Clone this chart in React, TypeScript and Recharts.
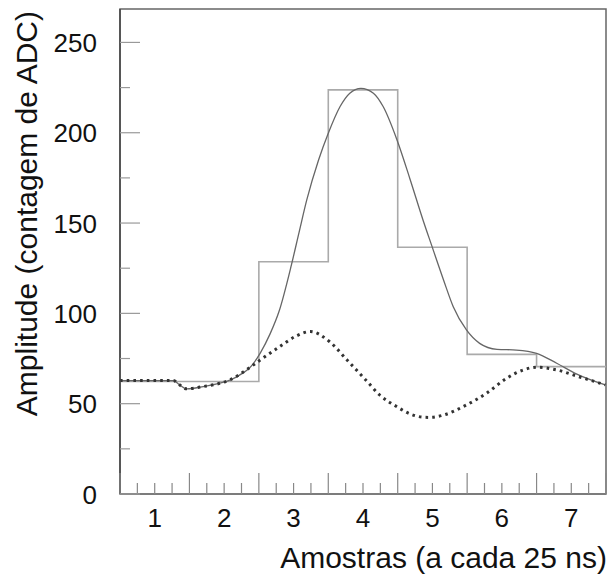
import {
  ComposedChart, Line, XAxis, YAxis, ReferenceArea, Label,
} from 'recharts';

// Histogram of the ADC samples (one bin per sample, 25 ns each)
const binCenters = [1, 2, 3, 4, 5, 6, 7];
const binCounts = [62.3, 62.3, 128.6, 223.7, 136.6, 77.3, 70.5];

// Fitted pulse (solid line)
const fitX = [0.5, 1.0, 1.27, 1.35, 1.46, 1.7, 1.94, 2.1, 2.25, 2.35, 2.42, 2.52, 2.66, 2.79, 2.97, 3.08, 3.19, 3.36, 3.5, 3.67, 3.81, 3.97, 4.15, 4.29, 4.49, 4.68, 4.87, 4.99, 5.16, 5.3, 5.49, 5.68, 5.93, 6.21, 6.5, 6.79, 7.08, 7.49];
const fitY = [62.8, 62.8, 62.8, 60.6, 58.2, 59.5, 61.4, 63.3, 66.5, 69.2, 72.2, 78, 88.5, 101, 127, 145, 162.8, 184.9, 199.7, 214.5, 221.9, 224.6, 221.9, 214.5, 196, 174, 151, 137.5, 118.5, 103.7, 90.8, 83.4, 80.1, 79.7, 77.9, 72.4, 66.4, 60.4];

// Second component (dotted line)
const compX = [0.5, 1.0, 1.27, 1.35, 1.46, 1.7, 1.94, 2.08, 2.32, 2.52, 2.8, 3.04, 3.24, 3.52, 3.77, 4.05, 4.24, 4.49, 4.68, 4.87, 4.97, 5.16, 5.49, 5.78, 6.07, 6.31, 6.5, 6.79, 7.08, 7.49];
const compY = [62.8, 62.8, 62.8, 60.6, 58.2, 59.5, 61.3, 63.1, 68.7, 74.2, 81.6, 87.5, 89.9, 84.3, 74.2, 62.7, 54.8, 48.3, 44.3, 42.5, 42.4, 43.7, 49.3, 55.8, 64.1, 68.7, 70.2, 68.7, 65.3, 60.4];

const xTickLabels = [1, 2, 3, 4, 5, 6, 7];
const yTickLabels = [0, 50, 100, 150, 200, 250];

const FONT = '"Liberation Sans", Arial, sans-serif';

const histData = [
  ...binCenters.map((c, i) => ({ x: c - 0.5, v: binCounts[i] })),
  { x: binCenters[binCenters.length - 1] + 0.5, v: binCounts[binCounts.length - 1] },
];
const fitData = fitX.map((x, i) => ({ x, v: fitY[i] }));
const compData = compX.map((x, i) => ({ x, v: compY[i] }));

// quarter-step ticks on x, half-step on y (minor ones between the labels)
const xTicks: number[] = [];
for (let t = xTickLabels[0] - 0.5; t <= xTickLabels[xTickLabels.length - 1] + 0.5001; t += 0.25) xTicks.push(+t.toFixed(2));
const yTicks: number[] = [];
yTickLabels.forEach((v) => { yTicks.push(v); yTicks.push(v + 25); });

function XTick(props: any) {
  const { x, y, payload } = props;
  const v = payload.value;
  const major = Math.abs(v - Math.round(v)) === 0.5;
  const isLabel = xTickLabels.includes(v);
  return (
    <g>
      <line x1={x} x2={x} y1={y} y2={y - (major ? 21 : 11)} stroke="#888" strokeWidth={1.2} />
      {isLabel && (
        <text x={x} y={y + 33} textAnchor="middle" fontSize={26} fontFamily={FONT} fill="#111">{v}</text>
      )}
    </g>
  );
}

function YTick(props: any) {
  const { x, y, payload } = props;
  const v = payload.value;
  const major = yTickLabels.includes(v);
  return (
    <g>
      <line x1={x} x2={x + (major ? 20 : 10)} y1={y} y2={y} stroke="#999" strokeWidth={1.2} />
      {major && (
        <text x={x - 23} y={y + 9.5} textAnchor="end" fontSize={26} fontFamily={FONT} fill="#111">{v}</text>
      )}
    </g>
  );
}

export default function App() {
  return (
    <div style={{ position: 'absolute', left: 0, top: 0, background: '#fff' }}>
      <ComposedChart width={608} height={574} margin={{ top: 9, right: 2, left: 0, bottom: 0 }}>
        <XAxis
          dataKey="x"
          type="number"
          domain={[0.5, 7.5]}
          ticks={xTicks}
          interval={0}
          allowDataOverflow
          height={80}
          tickSize={0}
          tickMargin={0}
          tickLine={false}
          axisLine={{ stroke: '#777', strokeWidth: 1.5 }}
          tick={<XTick />}
        >
          <Label
            content={({ viewBox }: any) => (
              <text x={viewBox.x + viewBox.width + 1} y={viewBox.y + 74} textAnchor="end" fontSize={30} fontFamily={FONT} fill="#111">
                Amostras (a cada 25 ns)
              </text>
            )}
          />
        </XAxis>
        <YAxis
          type="number"
          domain={[0, 268.5]}
          ticks={yTicks}
          interval={0}
          allowDataOverflow
          width={120}
          tickSize={0}
          tickMargin={0}
          tickLine={false}
          axisLine={{ stroke: '#444', strokeWidth: 1.5 }}
          tick={<YTick />}
        >
          <Label
            content={({ viewBox }: any) => (
              <text
                x={37}
                y={viewBox.y + 2}
                transform={`rotate(-90 37 ${viewBox.y + 2})`}
                textAnchor="end"
                fontSize={30}
                fontFamily={FONT}
                fill="#111"
              >
                Amplitude (contagem de ADC)
              </text>
            )}
          />
        </YAxis>
        <ReferenceArea x1={0.5} x2={7.5} y1={0} y2={268.5} fill="none" stroke="#666" strokeWidth={1.5} ifOverflow="visible" />
        <Line data={histData} dataKey="v" type="stepAfter" stroke="#aaa" strokeWidth={1.6} dot={false} isAnimationActive={false} />
        <Line data={fitData} dataKey="v" type="monotone" stroke="#666" strokeWidth={1.3} dot={false} isAnimationActive={false} />
        <Line data={compData} dataKey="v" type="monotone" stroke="#333" strokeWidth={3} strokeDasharray="2.6 4.1" dot={false} isAnimationActive={false} />
      </ComposedChart>
    </div>
  );
}
